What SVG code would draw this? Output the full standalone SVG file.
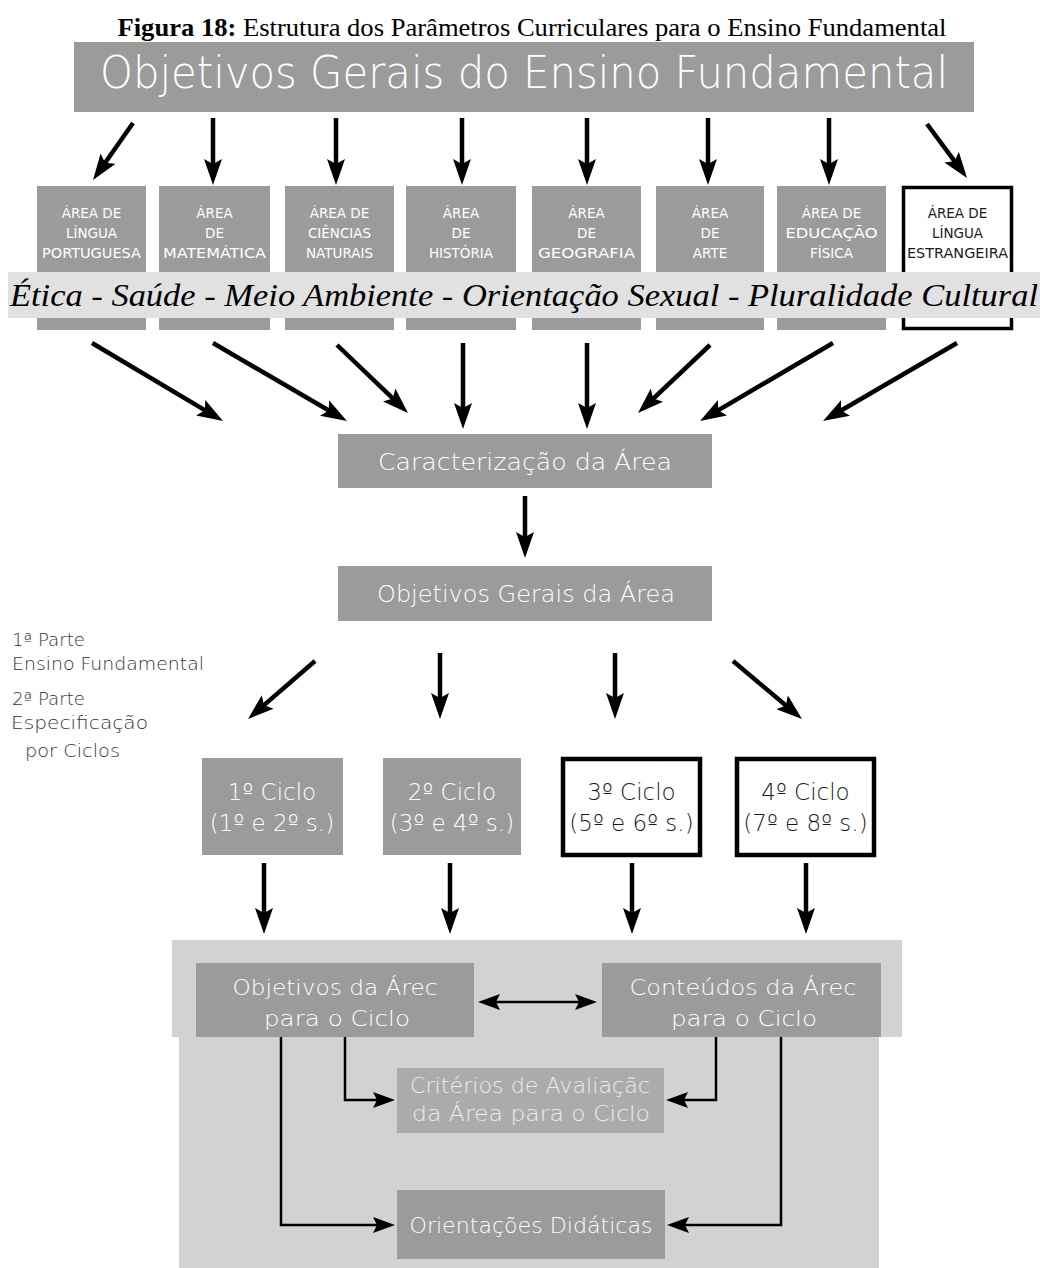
<svg xmlns="http://www.w3.org/2000/svg" width="1040" height="1268" viewBox="0 0 1040 1268">
<defs>
<style>
.bx{fill:#9b9b9b}
.t{font-family:"DejaVu Sans","Liberation Sans",sans-serif;text-anchor:middle;font-weight:300}
.w{fill:#ffffff}
.k{fill:#1a1a1a}
.a{font-size:13.5px;font-weight:400}
.c{font-size:23px}
.m{font-size:22px}
.ar{stroke:#000;stroke-width:4.5;fill:none;marker-end:url(#hb)}
.ar2{stroke:#000;stroke-width:2.5;fill:none;marker-end:url(#hs)}
.lt{font-family:"DejaVu Sans","Liberation Sans",sans-serif;font-weight:300;font-size:18px;fill:#333}
</style>
<marker id="hb" viewBox="0 0 26 18" refX="14" refY="9" markerWidth="26" markerHeight="18" markerUnits="userSpaceOnUse" orient="auto"><path d="M0,0 L26,9 L0,18 L5,9 z" fill="#000"/></marker>
<marker id="hs" viewBox="0 0 22 16" refX="12" refY="8" markerWidth="22" markerHeight="16" markerUnits="userSpaceOnUse" orient="auto-start-reverse"><path d="M0,0 L22,8 L0,16 L4,8 z" fill="#000"/></marker>
</defs>
<rect width="1040" height="1268" fill="#fff"/>

<text id="titulo" x="532" y="36" text-anchor="middle" font-family="'Liberation Serif',serif" font-size="25" fill="#000" textLength="829" lengthAdjust="spacingAndGlyphs"><tspan font-weight="bold">Figura 18:</tspan> Estrutura dos Parâmetros Curriculares para o Ensino Fundamental</text>

<g id="objetivos-gerais-ef">
<rect class="bx" x="74" y="42" width="900" height="70"/>
<text class="t w" x="524" y="88" font-size="44" textLength="848" lengthAdjust="spacingAndGlyphs">Objetivos Gerais do Ensino Fundamental</text>
</g>

<g id="area-lingua-portuguesa">
<rect class="bx" x="37" y="186" width="109" height="144"/>
<text class="t w a" x="91.5" y="218">ÁREA DE</text><text class="t w a" x="91.5" y="238">LÍNGUA</text><text class="t w a" x="91.5" y="258" textLength="99" lengthAdjust="spacingAndGlyphs">PORTUGUESA</text>
</g>
<g id="area-matematica">
<rect class="bx" x="159" y="186" width="111" height="144"/>
<text class="t w a" x="214.5" y="218">ÁREA</text><text class="t w a" x="214.5" y="238">DE</text><text class="t w a" x="214.5" y="258" textLength="103" lengthAdjust="spacingAndGlyphs">MATEMÁTICA</text>
</g>
<g id="area-ciencias">
<rect class="bx" x="285" y="186" width="109" height="144"/>
<text class="t w a" x="339.5" y="218">ÁREA DE</text><text class="t w a" x="339.5" y="238">CIÊNCIAS</text><text class="t w a" x="339.5" y="258">NATURAIS</text>
</g>
<g id="area-historia">
<rect class="bx" x="406" y="186" width="110" height="144"/>
<text class="t w a" x="461" y="218">ÁREA</text><text class="t w a" x="461" y="238">DE</text><text class="t w a" x="461" y="258">HISTÓRIA</text>
</g>
<g id="area-geografia">
<rect class="bx" x="532" y="186" width="109" height="144"/>
<text class="t w a" x="586.5" y="218">ÁREA</text><text class="t w a" x="586.5" y="238">DE</text><text class="t w a" x="586.5" y="258" textLength="97" lengthAdjust="spacingAndGlyphs">GEOGRAFIA</text>
</g>
<g id="area-arte">
<rect class="bx" x="656" y="186" width="108" height="144"/>
<text class="t w a" x="710" y="218">ÁREA</text><text class="t w a" x="710" y="238">DE</text><text class="t w a" x="710" y="258">ARTE</text>
</g>
<g id="area-educacao-fisica">
<rect class="bx" x="777" y="186" width="109" height="144"/>
<text class="t w a" x="831.5" y="218">ÁREA DE</text><text class="t w a" x="831.5" y="238" textLength="92" lengthAdjust="spacingAndGlyphs">EDUCAÇÃO</text><text class="t w a" x="831.5" y="258">FÍSICA</text>
</g>
<g id="area-lingua-estrangeira">
<rect x="903.5" y="187.5" width="108" height="141" fill="#fff" stroke="#000" stroke-width="3.5"/>
<text class="t k a" x="957.5" y="218">ÁREA DE</text><text class="t k a" x="957.5" y="238">LÍNGUA</text><text class="t k a" x="957.5" y="258" textLength="101" lengthAdjust="spacingAndGlyphs">ESTRANGEIRA</text>
</g>

<g id="temas-transversais">
<rect x="8" y="272" width="1032" height="46" fill="#e1e1e1"/>
<text x="10" y="306" font-family="'Liberation Serif',serif" font-style="italic" font-size="32" fill="#000" textLength="1028" lengthAdjust="spacingAndGlyphs">Ética - Saúde - Meio Ambiente - Orientação  Sexual - Pluralidade Cultural</text>
</g>

<g id="caracterizacao-area">
<rect class="bx" x="338" y="434" width="374" height="54"/>
<text class="t w" x="525" y="470" font-size="23" textLength="294" lengthAdjust="spacingAndGlyphs">Caracterização da Área</text>
</g>
<g id="objetivos-gerais-area">
<rect class="bx" x="338" y="566" width="374" height="55"/>
<text class="t w" x="526" y="602" font-size="23" textLength="298" lengthAdjust="spacingAndGlyphs">Objetivos Gerais da Área</text>
</g>

<g id="legenda-partes">
<text class="lt" x="12" y="646" textLength="73" lengthAdjust="spacingAndGlyphs">1ª Parte</text>
<text class="lt" x="12" y="670" textLength="192" lengthAdjust="spacingAndGlyphs">Ensino Fundamental</text>
<text class="lt" x="12" y="705" textLength="73" lengthAdjust="spacingAndGlyphs">2ª Parte</text>
<text class="lt" x="11" y="729" textLength="137" lengthAdjust="spacingAndGlyphs">Especificação</text>
<text class="lt" x="25" y="757" textLength="95" lengthAdjust="spacingAndGlyphs">por Ciclos</text>
</g>

<g id="ciclo-1">
<rect class="bx" x="202" y="758" width="141" height="97"/>
<text class="t w c" x="272" y="800">1º Ciclo</text><text class="t w c" x="272" y="831">(1º e 2º s.)</text>
</g>
<g id="ciclo-2">
<rect class="bx" x="383" y="758" width="138" height="97"/>
<text class="t w c" x="452" y="800">2º Ciclo</text><text class="t w c" x="452" y="831">(3º e 4º s.)</text>
</g>
<g id="ciclo-3">
<rect x="563" y="759" width="137" height="96" fill="#fff" stroke="#000" stroke-width="4.5"/>
<text class="t k c" x="631.5" y="800">3º Ciclo</text><text class="t k c" x="631.5" y="831">(5º e 6º s.)</text>
</g>
<g id="ciclo-4">
<rect x="737" y="759" width="137" height="96" fill="#fff" stroke="#000" stroke-width="4.5"/>
<text class="t k c" x="805.5" y="800">4º Ciclo</text><text class="t k c" x="805.5" y="831">(7º e 8º s.)</text>
</g>

<g id="painel-ciclo">
<path d="M172,940 H902 V1037 H879 V1268 H179 V1037 H172 Z" fill="#d2d2d2"/>
</g>
<g id="objetivos-area-ciclo">
<rect class="bx" x="196" y="963" width="278" height="74"/>
<text class="t w m" x="335" y="995" textLength="205" lengthAdjust="spacingAndGlyphs">Objetivos da Árec</text><text class="t w m" x="337" y="1026" textLength="146" lengthAdjust="spacingAndGlyphs">para o Ciclo</text>
</g>
<g id="conteudos-area-ciclo">
<rect class="bx" x="602" y="963" width="279" height="74"/>
<text class="t w m" x="743" y="995" textLength="227" lengthAdjust="spacingAndGlyphs">Conteúdos da Árec</text><text class="t w m" x="744" y="1026" textLength="146" lengthAdjust="spacingAndGlyphs">para o Ciclo</text>
</g>
<g id="criterios-avaliacao">
<rect x="397" y="1068" width="267" height="65" fill="#ababab"/>
<text class="t m" fill="#ececec" x="530" y="1093" textLength="240" lengthAdjust="spacingAndGlyphs">Critérios de Avaliaçãc</text><text class="t m" fill="#ececec" x="531" y="1121" textLength="238" lengthAdjust="spacingAndGlyphs">da Área para o Ciclo</text>
</g>
<g id="orientacoes-didaticas">
<rect class="bx" x="397" y="1190" width="268" height="69"/>
<text class="t w m" x="531" y="1233" textLength="243" lengthAdjust="spacingAndGlyphs">Orientações Didáticas</text>
</g>

<g id="connectors">
<line class="ar" x1="133" y1="123" x2="99.9" y2="170.2"/>
<line class="ar" x1="213" y1="118" x2="213" y2="173"/>
<line class="ar" x1="336" y1="118" x2="336" y2="173"/>
<line class="ar" x1="462" y1="118" x2="462" y2="173"/>
<line class="ar" x1="587" y1="118" x2="587" y2="173"/>
<line class="ar" x1="708" y1="118" x2="708" y2="173"/>
<line class="ar" x1="829" y1="118" x2="829" y2="173"/>
<line class="ar" x1="927" y1="124" x2="959.9" y2="168.4"/>

<line class="ar" x1="92" y1="343" x2="212.7" y2="414.9"/>
<line class="ar" x1="213" y1="343" x2="336.6" y2="415"/>
<line class="ar" x1="337" y1="345" x2="399.3" y2="404.7"/>
<line class="ar" x1="463" y1="343" x2="463" y2="417"/>
<line class="ar" x1="587" y1="343" x2="587" y2="417"/>
<line class="ar" x1="710" y1="345" x2="646.7" y2="404.8"/>
<line class="ar" x1="833" y1="343" x2="710.4" y2="414.9"/>
<line class="ar" x1="957" y1="343" x2="833.4" y2="415"/>

<line class="ar" x1="525" y1="496" x2="525" y2="546"/>

<line class="ar" x1="315" y1="661" x2="257.1" y2="711.1"/>
<line class="ar" x1="440" y1="653" x2="440" y2="707"/>
<line class="ar" x1="615" y1="653" x2="615" y2="707"/>
<line class="ar" x1="733" y1="661" x2="792.8" y2="711.3"/>

<line class="ar" x1="264" y1="863" x2="264" y2="922"/>
<line class="ar" x1="450" y1="863" x2="450" y2="922"/>
<line class="ar" x1="632" y1="863" x2="632" y2="922"/>
<line class="ar" x1="806" y1="863" x2="806" y2="922"/>

<line class="ar2" x1="488" y1="1002" x2="587" y2="1002" marker-start="url(#hs)"/>
<path class="ar2" d="M345,1037 V1100 H385"/>
<path class="ar2" d="M281,1037 V1225 H385"/>
<path class="ar2" d="M716,1037 V1100 H676"/>
<path class="ar2" d="M781,1037 V1225 H677"/>
</g>
</svg>
